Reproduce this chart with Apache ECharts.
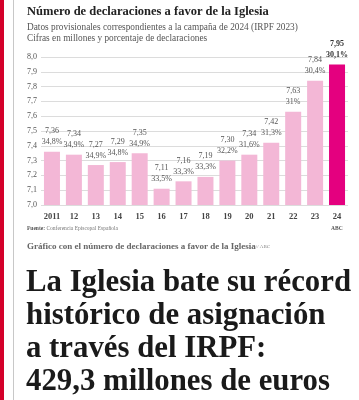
<!DOCTYPE html>
<html><head><meta charset="utf-8">
<script src="https://cdn.jsdelivr.net/npm/echarts@6/dist/echarts.min.js"></script>
<style>html,body{margin:0;padding:0;background:#fff;}#c{width:359px;height:400px;}</style>
</head><body><div id="c"></div>
<script>
var categories = ['2011','12','13','14','15','16','17','18','19','20','21','22','23','24'];
var values = [7.36,7.34,7.27,7.29,7.35,7.11,7.16,7.19,7.30,7.34,7.42,7.63,7.84,7.95];
var percents = ['34,8%','34,9%','34,9%','34,8%','34,9%','33,5%','33,3%','33,3%','32,2%','31,6%','31,3%','31%','30,4%','30,1%'];
var valueLabels = ['7,36','7,34','7,27','7,29','7,35','7,11','7,16','7,19','7,30','7,34','7,42','7,63','7,84','7,95'];
var yTicks = ['7,0','7,1','7,2','7,3','7,4','7,5','7,6','7,7','7,8','7,9','8,0'];

var serif = '"Liberation Serif", "DejaVu Serif", serif';
var last = values.length - 1;
var data = values.map(function(v, i){
  return {
    value: v,
    itemStyle: {color: i === last ? '#e4007f' : '#f3b7d6'},
    label: {fontWeight: i === last ? 'bold' : 'normal', color: i === last ? '#333' : '#555'}
  };
});

var chart = echarts.init(document.getElementById('c'), null, {renderer:'canvas'});
chart.setOption({
  animation: false,
  backgroundColor: '#fff',
  grid: {left: 41, right: 11, top: 57, bottom: 195, containLabel: false},
  xAxis: {
    type: 'category', data: categories,
    axisLine: {show: false}, axisTick: {show: false},
    axisLabel: {fontFamily: serif, fontSize: 8.5, color: '#444', fontWeight: 'bold', margin: 7}
  },
  yAxis: {
    type: 'value', min: 7.0, max: 8.0, interval: 0.1,
    axisLabel: {fontFamily: serif, fontSize: 8, color: '#555', margin: 14,
      formatter: function(v){ return yTicks[Math.round((v - 7) * 10)]; }, align: 'left'},
    splitLine: {lineStyle: {color: '#dcdcdc', width: 1}}
  },
  series: [{
    type: 'bar', data: data, barWidth: 16,
    label: {
      show: true, position: 'top', distance: 4, fontFamily: serif, fontSize: 8, lineHeight: 11,
      formatter: function(p){ return valueLabels[p.dataIndex] + '\n' + percents[p.dataIndex]; }
    }
  }],
  graphic: [
    {type: 'rect', shape: {x: 0, y: 0, width: 4, height: 400}, style: {fill: '#d4002a'}},
    {type: 'rect', shape: {x: 13, y: 0, width: 1, height: 400}, style: {fill: '#c8c8c8'}},
    {type: 'text', left: 27, top: 5, style: {text: 'Número de declaraciones a favor de la Iglesia', font: 'bold 12.5px ' + serif, fill: '#222'}},
    {type: 'text', left: 27, top: 23, style: {text: 'Datos provisionales correspondientes a la campaña de 2024 (IRPF 2023)', font: '9.3px ' + serif, fill: '#555'}},
    {type: 'text', left: 27, top: 34, style: {text: 'Cifras en millones y porcentaje de declaraciones', font: '9.3px ' + serif, fill: '#555'}},
    {type: 'text', left: 27, top: 226, style: {text: '{b|Fuente:} Conferencia Episcopal Española', font: '5.5px ' + serif, fill: '#777', rich: {b: {fontWeight: 'bold', fontSize: 5.5, fontFamily: serif, fill: '#555'}}}},
    {type: 'text', left: 331, top: 226, style: {text: 'ABC', font: 'bold 5.5px ' + serif, fill: '#555'}},
    {type: 'text', left: 27, top: 242, style: {text: 'Gráfico con el número de declaraciones a favor de la Iglesia{s|// ABC}', font: 'bold 9px ' + serif, fill: '#666', rich: {s: {fontSize: 5, fontFamily: serif, fill: '#888'}}}},
    {type: 'text', left: 26, top: 267, style: {text: 'La Iglesia bate su récord\nhistórico de asignación\na través del IRPF:\n429,3 millones de euros', font: 'bold 30.8px ' + serif, lineHeight: 33, fill: '#1a1a1a'}}
  ]
});
</script></body></html>
